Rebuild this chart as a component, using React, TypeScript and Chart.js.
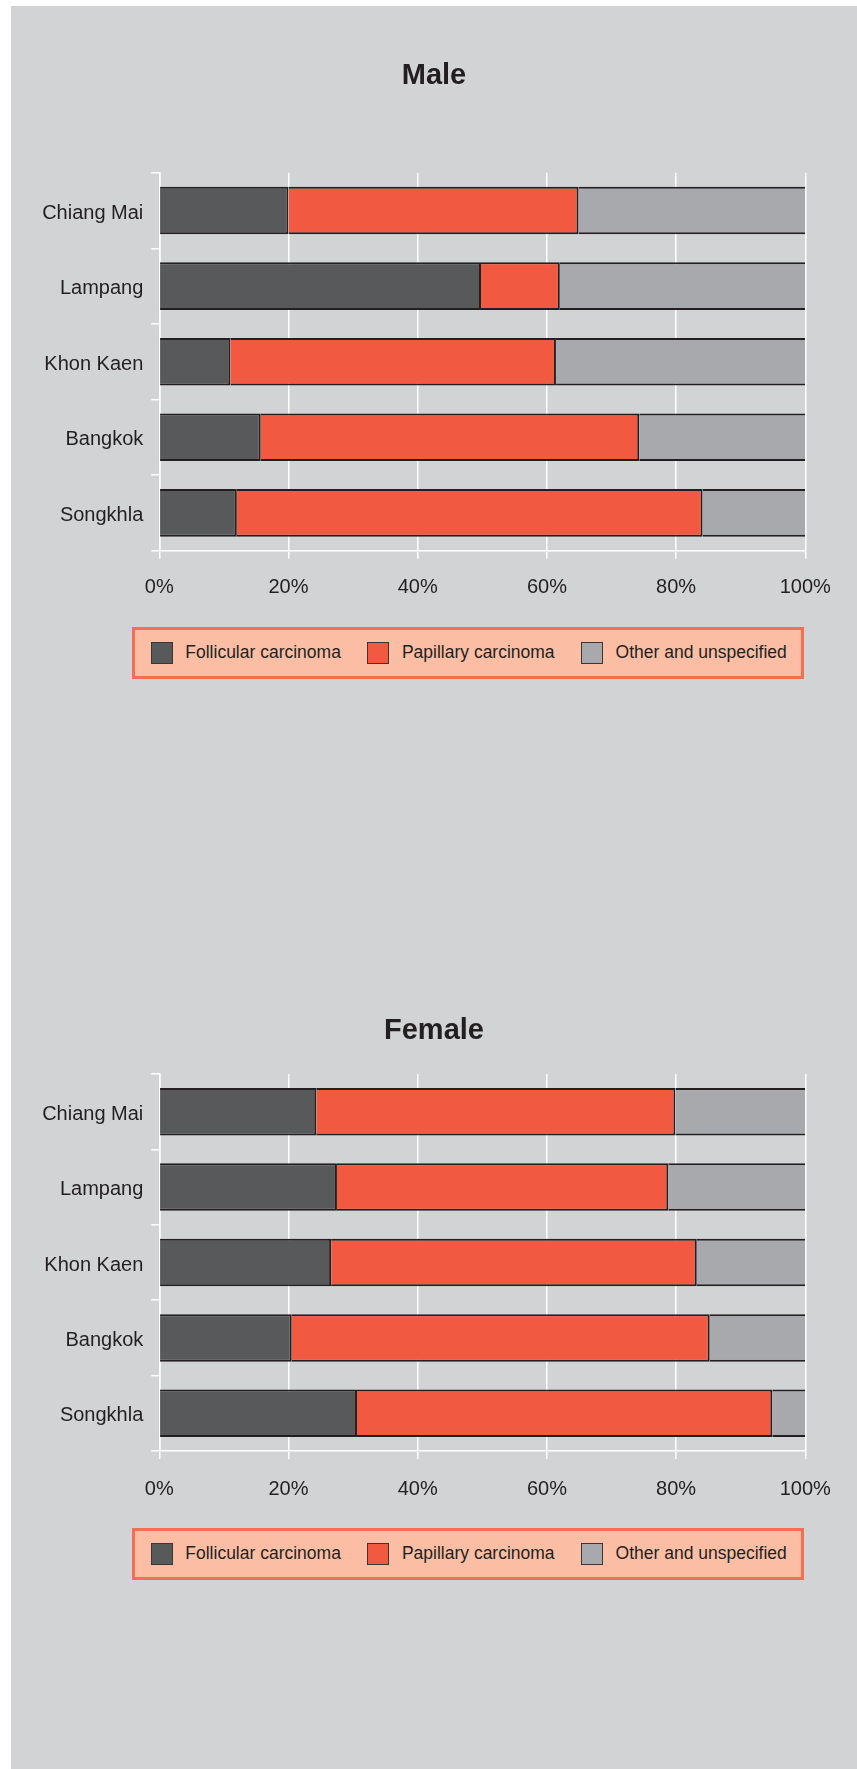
import React, { useEffect, useRef } from "react";
import { Chart, registerables } from "chart.js";

Chart.register(...registerables);

const categories = ["Chiang Mai", "Lampang", "Khon Kaen", "Bangkok", "Songkhla"];
const seriesNames = ["Follicular carcinoma", "Papillary carcinoma", "Other and unspecified"];
const seriesColors = ["#58595B", "#F15A40", "#A7A9AC"];

const maleFollicular = [20.0, 49.8, 11.0, 15.7, 12.0];
const malePapillary = [44.9, 12.2, 50.4, 58.6, 72.1];
const maleOther = [35.1, 38.0, 38.6, 25.7, 15.9];

const femaleFollicular = [24.3, 27.5, 26.6, 20.5, 30.6];
const femalePapillary = [55.6, 51.3, 56.6, 64.7, 64.3];
const femaleOther = [20.1, 21.2, 16.8, 14.8, 5.1];

const xTickValues = [0, 20, 40, 60, 80, 100];
const xTickLabels = ["0%", "20%", "40%", "60%", "80%", "100%"];

const FONT = "'Liberation Sans', Arial, Helvetica, sans-serif";
const INK = "#231F20";
const BG = "#D1D3D4";

type PanelProps = {
  title: string;
  series: number[][];
  top: number;
  height: number;
  titleY: number;
  plotTop: number;
  plotBottom: number;
  tickPad: number;
};

function Panel(p: PanelProps) {
  const ref = useRef<HTMLCanvasElement | null>(null);
  useEffect(() => {
    if (!ref.current) return;
    const W = 846;
    const yAxisWidth = 148.3;
    const plotRight = 794.3;
    const titlePlugin = {
      id: "centeredTitle",
      afterDraw(chart: any) {
        const ctx = chart.ctx;
        ctx.save();
        ctx.font = `bold 29px ${FONT}`;
        ctx.fillStyle = INK;
        ctx.textAlign = "center";
        ctx.textBaseline = "middle";
        ctx.fillText(p.title, chart.width / 2, p.titleY);
        ctx.restore();
      },
    };
    const chart = new Chart(ref.current, {
      type: "bar",
      data: {
        labels: categories,
        datasets: p.series.map((vals, i) => ({
          label: seriesNames[i],
          data: vals,
          backgroundColor: seriesColors[i],
          borderColor: INK,
          borderSkipped: false,
          borderWidth: { top: 2, bottom: 2, left: 0, right: i < 2 ? 2 : 0 },
          barPercentage: 0.63,
          categoryPercentage: 1,
        })),
      },
      options: {
        indexAxis: "y",
        responsive: false,
        animation: false,
        devicePixelRatio: 1,
        layout: { padding: { left: 0, right: W - plotRight, top: p.plotTop, bottom: 0 } },
        plugins: {
          legend: { display: false },
          tooltip: { enabled: false },
          title: { display: false },
        },
        scales: {
          x: {
            stacked: true,
            min: 0,
            max: 100,
            afterBuildTicks: (scale: any) => {
              scale.ticks = xTickValues.map((v) => ({ value: v }));
            },
            afterFit: (scale: any) => {
              scale.height = p.height - p.plotBottom;
            },
            ticks: {
              color: INK,
              font: { family: FONT, size: 20, lineHeight: 1.2 },
              padding: p.tickPad,
              maxRotation: 0,
              callback: (v: any) => xTickLabels[xTickValues.indexOf(Number(v))] ?? "",
            },
            grid: { color: "#FFFFFF", lineWidth: 1.5, tickLength: 8, drawTicks: true },
            border: { display: true, color: "#FFFFFF", width: 1.5 },
          },
          y: {
            stacked: true,
            afterFit: (scale: any) => {
              scale.width = yAxisWidth;
            },
            ticks: {
              color: INK,
              font: { family: FONT, size: 20, lineHeight: 1.2 },
              padding: 8,
              labelOffset: 2.5,
            },
            grid: {
              color: "#FFFFFF",
              lineWidth: 1.5,
              tickLength: 8,
              drawOnChartArea: false,
              drawTicks: true,
              offset: true,
            },
            border: { display: true, color: "#FFFFFF", width: 1.5 },
          },
        },
      } as any,
      plugins: [titlePlugin],
    });
    return () => chart.destroy();
  }, []);
  return (
    <canvas
      ref={ref}
      width={846}
      height={p.height}
      style={{ position: "absolute", left: 0, top: p.top, width: 846, height: p.height, display: "block" }}
    />
  );
}

function Legend({ top }: { top: number }) {
  return (
    <div
      style={{
        position: "absolute",
        left: 121.3,
        top,
        width: 672,
        height: 52,
        boxSizing: "border-box",
        border: "3px solid #F36E52",
        background: "#FBBEA5",
        display: "flex",
        alignItems: "center",
        paddingLeft: 15.5,
        fontFamily: FONT,
        fontSize: 17.5,
        color: INK,
        whiteSpace: "nowrap",
      }}
    >
      {seriesNames.map((name, i) => (
        <div key={name} style={{ display: "flex", alignItems: "center", marginRight: i < 2 ? 26.5 : 0 }}>
          <div
            style={{
              width: 22,
              height: 22,
              boxSizing: "border-box",
              background: seriesColors[i],
              border: "1.5px solid #3A3536",
              marginRight: 12.5,
            }}
          />
          <span>{name}</span>
        </div>
      ))}
    </div>
  );
}

export default function App() {
  return (
    <div
      style={{
        position: "absolute",
        left: 11,
        top: 6,
        width: 846,
        height: 1763,
        background: BG,
        overflow: "hidden",
      }}
    >
      <Panel
        title="Male"
        series={[maleFollicular, malePapillary, maleOther]}
        top={0}
        height={620}
        titleY={70.2}
        plotTop={166.7}
        plotBottom={544.7}
        tickPad={16.5}
      />
      <Legend top={620.7} />
      <Panel
        title="Female"
        series={[femaleFollicular, femalePapillary, femaleOther]}
        top={1000}
        height={520}
        titleY={25.2}
        plotTop={68}
        plotBottom={445}
        tickPad={18.7}
      />
      <Legend top={1521.7} />
    </div>
  );
}
